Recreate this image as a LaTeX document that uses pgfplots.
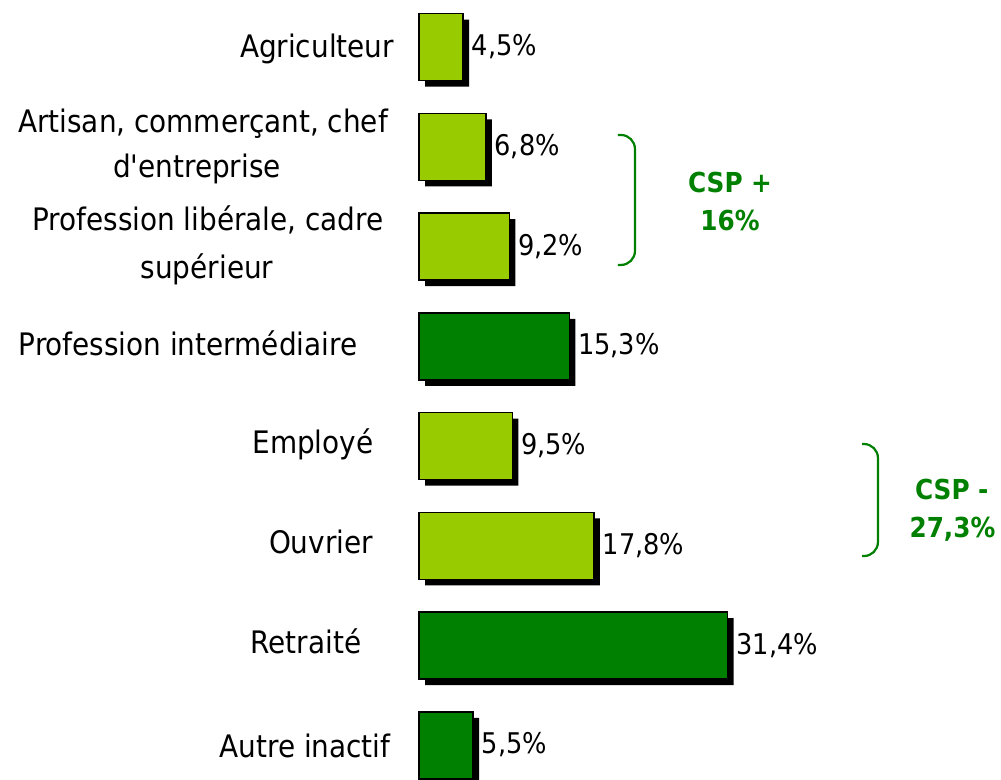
\documentclass[border=0pt]{standalone}
\usepackage{pgfplots}
\pgfplotsset{compat=1.18}
\usepackage{fontspec}
\setmainfont{DejaVu Sans Condensed}[Ligatures=TeXOff]
\definecolor{lightg}{RGB}{153,204,0}
\definecolor{darkg}{RGB}{0,128,0}
\begin{document}
\begin{tikzpicture}[x=1pt,y=1pt]
\path[use as bounding box] (0,0) rectangle (1001,779);
\clip (0,0) rectangle (1001,779);
\begin{axis}[
  at={(419pt,781.875pt)}, anchor=north west,
  scale only axis, width=393.2pt, height=798pt,
  xmin=0, xmax=40, ymin=-0.5, ymax=7.5, y dir=reverse,
  hide axis, clip=false,
  xbar, bar width=67pt,
  /pgf/number format/assume math mode=true,
]
% shadow
\addplot[fill=black, draw=none, bar shift=0pt, xshift=6pt, yshift=-6pt]
  coordinates {(4.5,0) (6.8,1) (9.2,2) (15.3,3) (9.5,4) (17.8,5) (31.4,6) (5.5,7)};
% light bars
\addplot[fill=lightg, draw=black, line width=1.5pt, bar shift=0pt,
  nodes near coords={\pgfmathprintnumber[fixed,precision=1,fixed zerofill,use comma,assume math mode=true]{\pgfplotspointmeta}\%},
  nodes near coords style={anchor=base west, inner sep=0pt, xshift=8pt, yshift=-8.5pt, font=\fontsize{28.5}{34}\selectfont, text=black}]
  coordinates {(4.5,0) (6.8,1) (9.2,2) (9.5,4) (17.8,5)};
% dark bars
\addplot[fill=darkg, draw=black, line width=1.5pt, bar shift=0pt,
  nodes near coords={\pgfmathprintnumber[fixed,precision=1,fixed zerofill,use comma,assume math mode=true]{\pgfplotspointmeta}\%},
  nodes near coords style={anchor=base west, inner sep=0pt, xshift=8pt, yshift=-8.5pt, font=\fontsize{28.5}{34}\selectfont, text=black}]
  coordinates {(15.3,3) (31.4,6) (5.5,7)};

% category labels
\tikzset{lab/.style={anchor=base, inner sep=0pt, font=\fontsize{31}{47}\selectfont}}
\node[lab, xshift=-102pt, yshift=-10.5pt] at (axis cs:0,0) {Agriculteur};
\node[lab, xshift=-216pt, yshift=14.25pt] at (axis cs:0,1) {Artisan, commerçant, chef};
\node[lab, xshift=-222pt, yshift=-30.75pt] at (axis cs:0,1) {d'entreprise};
\node[lab, xshift=-211pt, yshift=16pt] at (axis cs:0,2) {Profession libérale, cadre};
\node[lab, xshift=-212pt, yshift=-32pt] at (axis cs:0,2) {supérieur};
\node[lab, xshift=-231pt, yshift=-9.25pt] at (axis cs:0,3) {Profession intermédiaire};
\node[lab, xshift=-106pt, yshift=-7.5pt] at (axis cs:0,4) {Employé};
\node[lab, xshift=-98pt, yshift=-7.75pt] at (axis cs:0,5) {Ouvrier};
\node[lab, xshift=-113pt, yshift=-8pt] at (axis cs:0,6) {Retraité};
\node[lab, xshift=-114pt, yshift=-12.25pt] at (axis cs:0,7) {Autre inactif};

% brackets
\draw[darkg, line width=2.2pt, rounded corners=14pt]
  (axis cs:20.24,0.882) -- (axis cs:21.97,0.882) -- (axis cs:21.97,2.185) -- (axis cs:20.24,2.185);
\draw[darkg, line width=2.2pt, rounded corners=14pt]
  (axis cs:45.07,3.98) -- (axis cs:46.69,3.98) -- (axis cs:46.69,5.103) -- (axis cs:45.07,5.103);
\tikzset{csp/.style={anchor=base, inner sep=0pt, text=darkg, font=\fontsize{27.5}{34}\bfseries\selectfont}}
\node[csp] at (axis cs:31.64,1.459) {CSP +};
\node[csp] at (axis cs:31.64,1.835) {16\%};
\node[csp] at (axis cs:54.2,4.541) {CSP -};
\node[csp] at (axis cs:54.27,4.922) {27,3\%};
\end{axis}
\end{tikzpicture}
\end{document}
